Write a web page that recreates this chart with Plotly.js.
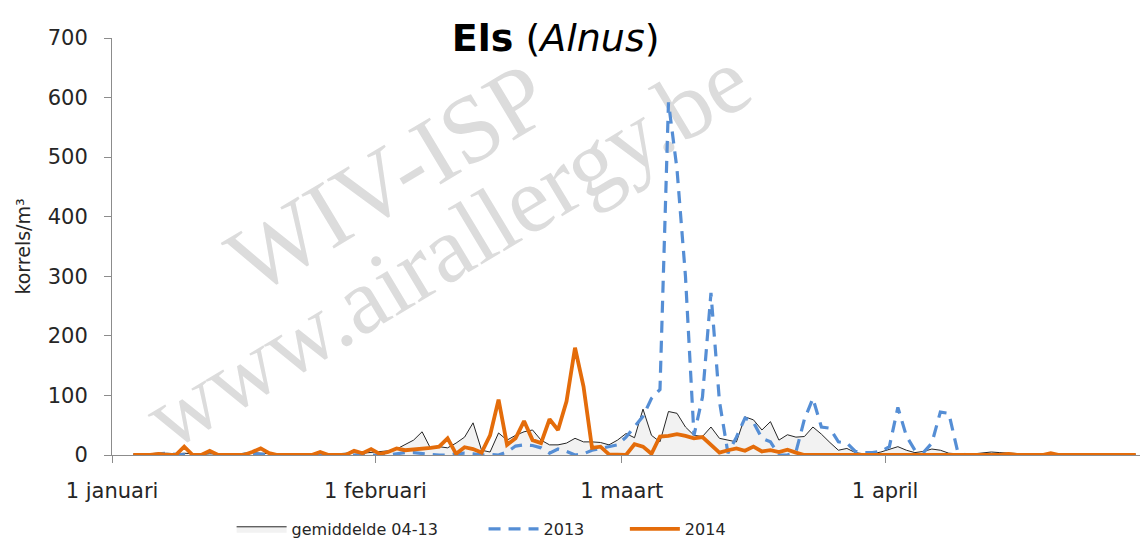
<!DOCTYPE html>
<html>
<head>
<meta charset="utf-8">
<script src="https://cdn.plot.ly/plotly-3.0.1.min.js"></script>
<style>
  body { margin: 0; background: #fff; }
  #wrap { position: relative; width: 1141px; height: 543px; overflow: hidden; }
  #chart { position: absolute; left: 0; top: 0; width: 1141px; height: 543px; }
  .wm {
    position: absolute;
    font-family: "Liberation Serif", "DejaVu Serif", serif;
    color: #dcdcdc;
    white-space: nowrap;
    transform: translate(-50%, -50%) rotate(-31deg);
  }
</style>
</head>
<body>
<div id="wrap">
  <!-- watermark sits behind the (transparent) plot -->
  <div class="wm" style="left:388px; top:178px; font-size:96px;">WIV-ISP</div>
  <div class="wm" style="left:447px; top:248px; font-size:94px;">www.airallergy.be</div>
  <div id="chart"></div>
</div>
<script>
// day index 0 = 1 januari ... 120 = 30 april (leap-year calendar, so 29 feb included)
const tickDays = [-0.5, 30.5, 59.5, 90.5];
const tickLabels = ['1 januari', '1 februari', '1 maart', '1 april'];

const gemiddelde = [
  null, null, 1, 2, 1, 2, 3, 2, 3, 2,
  1, 2, 2, 1, 1, 3, 4, 3, 2, 1,
  1, 1, 2, 2, 2, 1, 2, 3, 4, 3,
  4, 5, 7, 10, 18, 25, 39, 11, 14, 12,
  20, 30, 54, 8, 5, 37, 25, 33, 39, 42,
  25, 17, 17, 20, 28, 22, 22, 21, 17, 25,
  36, 29, 77, 33, 22, 73, 70, 47, 33, 31,
  47, 28, 25, 22, 64, 59, 42, 56, 25, 34,
  30, 31, 47, 35, 21, 8, 11, 4, 2, 2,
  5, 10, 14, 8, 4, 6, 10, 8, 3, 2,
  1, 2, 4, 5, 4, 3, 2, 1, 1, 2,
  2, 1, 1, 1, 0, 1, 0, 0, 0, 0,
  0
];

const jaar2013 = [
  null, null, 0, 0, 0, 2, 3, 1, 0, 0,
  0, 0, 0, 0, 0, 1, 2, 1, 0, 0,
  0, 0, 0, 0, 0, 0, 1, 1, 0, 0,
  1, 1, 0, 2, 4, 4, 2, 1, 0, 0,
  2, 3, 2, 0, 1, 0, 5, 15, 17, 16,
  12, 3, 10, 6, 0, 2, 8, 11, 13, 17,
  30, 48, 65, 95, 110, 592, 480, 300, 33, 97,
  272, 90, 3, 30, 62, 55, 28, 22, 0, 0,
  5, 60, 95, 47, 45, 22, 20, 6, 4, 4,
  6, 14, 80, 32, 8, 4, 20, 72, 70, 8,
  0, 0, 0, 0, 0, 0, 0, 0, 0, 0,
  0, 0, 0, 0, 0, 0, 0, 0, 0, 0,
  0
];

const jaar2014 = [
  null, null, 0, 0, 0, 2, 0, 0, 14, 0,
  0, 7, 0, 0, 0, 0, 5, 11, 3, 0,
  0, 0, 0, 0, 5, 0, 0, 0, 7, 3,
  10, 2, 5, 11, 8, 9, 10, 12, 14, 28,
  2, 13, 10, 4, 33, 93, 17, 28, 57, 25,
  20, 60, 42, 90, 180, 115, 12, 14, 1, 0,
  0, 18, 14, 2, 31, 32, 35, 32, 28, 30,
  17, 4, 8, 11, 7, 14, 6, 8, 5, 9,
  4, 0, 0, 0, 0, 0, 0, 0, 0, 0,
  0, 0, 0, 0, 0, 0, 0, 0, 0, 0,
  0, 0, 0, 0, 0, 2, 0, 0, 0, 0,
  3, 0, 0, 0, 0, 0, 0, 0, 0, 0,
  0
];

const days = gemiddelde.map((v, i) => i);

const font = '"DejaVu Sans", "Open Sans", sans-serif';
// trailing no-break spaces widen the legend entries like in the original
const nb = '\u00a0';

var traceGem = {
  name: 'gemiddelde 04-13' + nb.repeat(8),
  type: 'scatter',
  mode: 'lines',
  x: days,
  y: gemiddelde,
  fill: 'tozeroy',
  fillcolor: '#f2f2f2',
  line: { color: '#262626', width: 1 }
};

var trace2013 = {
  name: '2013' + nb.repeat(7),
  type: 'scatter',
  mode: 'lines',
  x: days,
  y: jaar2013,
  line: { color: '#558ed5', width: 3.2, dash: '12px,8px' }
};

var trace2014 = {
  name: '2014',
  type: 'scatter',
  mode: 'lines',
  x: days,
  y: jaar2014,
  line: { color: '#e46c0a', width: 3.8 }
};

var layout = {
  width: 1141,
  height: 543,
  margin: { l: 112, r: 1, t: 38, b: 88 },
  paper_bgcolor: 'rgba(0,0,0,0)',
  plot_bgcolor: 'rgba(0,0,0,0)',
  font: { family: font, size: 20, color: '#262626' },
  title: {
    text: '<b>Els</b> (<i>Alnus</i>)',
    font: { family: font, size: 38, color: '#000' },
    x: 0.487, xanchor: 'center',
    y: 0.93, yanchor: 'middle'
  },
  xaxis: {
    range: [-0.5, 120.5],
    tickvals: tickDays,
    ticktext: tickLabels,
    ticks: 'outside',
    ticklen: 7,
    tickcolor: '#8c8c8c',
    showline: true,
    linecolor: '#8c8c8c',
    showgrid: false,
    zeroline: false,
    ticklabelstandoff: 10,
    tickfont: { size: 21 }
  },
  yaxis: {
    range: [0, 700],
    dtick: 100,
    ticks: 'outside',
    ticklen: 7,
    tickcolor: '#8c8c8c',
    showline: true,
    linecolor: '#8c8c8c',
    showgrid: false,
    zeroline: false,
    ticklabelstandoff: 12,
    tickfont: { size: 21 },
    title: { text: 'korrels/m³', font: { size: 19 }, standoff: 12 }
  },
  showlegend: true,
  legend: {
    orientation: 'h',
    xref: 'container', yref: 'container',
    x: 0.203, xanchor: 'left',
    y: 0.026, yanchor: 'middle',
    font: { size: 16 },
    itemwidth: 50,
    traceorder: 'normal'
  },
  hovermode: false
};

Plotly.newPlot('chart', [traceGem, trace2013, trace2014], layout, { displayModeBar: false, staticPlot: true });
</script>
</body>
</html>
